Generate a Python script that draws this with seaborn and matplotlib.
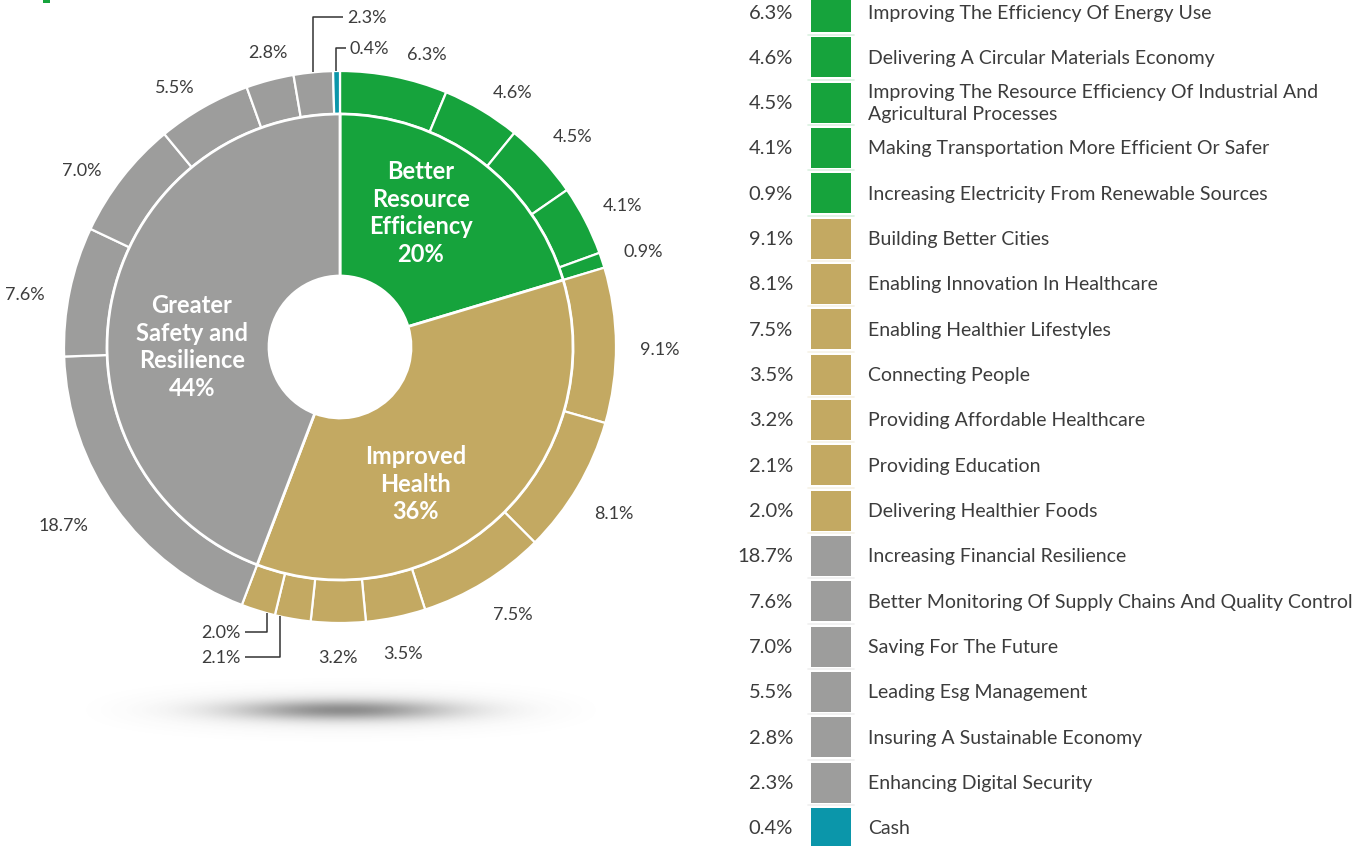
import numpy as np
import matplotlib
matplotlib.use("Agg")
import matplotlib.pyplot as plt
from matplotlib.patches import Rectangle
import seaborn as sns

sns.set_theme(style="white")
plt.rcParams["font.family"] = ["Lato", "DejaVu Sans"]

# ---------------- data ----------------
themes = ["Better\nResource\nEfficiency", "Improved\nHealth", "Greater\nSafety and\nResilience"]
theme_pct = ["20%", "36%", "44%"]

green_labels = ["Improving The Efficiency Of Energy Use",
                "Delivering A Circular Materials Economy",
                "Improving The Resource Efficiency Of Industrial And\nAgricultural Processes",
                "Making Transportation More Efficient Or Safer",
                "Increasing Electricity From Renewable Sources"]
green_vals = [6.3, 4.6, 4.5, 4.1, 0.9]

gold_labels = ["Building Better Cities",
               "Enabling Innovation In Healthcare",
               "Enabling Healthier Lifestyles",
               "Connecting People",
               "Providing Affordable Healthcare",
               "Providing Education",
               "Delivering Healthier Foods"]
gold_vals = [9.1, 8.1, 7.5, 3.5, 3.2, 2.1, 2.0]

gray_labels = ["Increasing Financial Resilience",
               "Better Monitoring Of Supply Chains And Quality Control",
               "Saving For The Future",
               "Leading Esg Management",
               "Insuring A Sustainable Economy",
               "Enhancing Digital Security"]
gray_vals = [18.7, 7.6, 7.0, 5.5, 2.8, 2.3]

cash_labels = ["Cash"]
cash_vals = [0.4]

GREEN, GOLD, GRAY, TEAL = "#16a33c", "#c3a962", "#9d9d9c", "#0b96aa"
TXT = "#3c3c3c"

# ---------------- derived ----------------
outer_vals = green_vals + gold_vals + gray_vals + cash_vals
outer_labels = green_labels + gold_labels + gray_labels + cash_labels
outer_colors = ([GREEN] * len(green_vals) + [GOLD] * len(gold_vals)
                + [GRAY] * len(gray_vals) + [TEAL] * len(cash_vals))
inner_vals = [sum(green_vals), sum(gold_vals), sum(gray_vals) + sum(cash_vals)]
inner_colors = [GREEN, GOLD, GRAY]

W, H = 1368, 846
fig = plt.figure(figsize=(W / 100, H / 100), dpi=100)
ax = fig.add_axes([0, 0, 1, 1])


def P(x, y):
    return x, H - y


CX, CY = P(340, 347)
R_OUT, R_IN, R_HOLE = 276, 233, 71

ax.pie(outer_vals, radius=R_OUT, center=(CX, CY), startangle=90, counterclock=False,
       colors=outer_colors,
       wedgeprops=dict(width=R_OUT - R_IN, edgecolor="white", linewidth=1.6))
ax.pie(inner_vals, radius=R_IN, center=(CX, CY), startangle=90, counterclock=False,
       colors=inner_colors,
       wedgeprops=dict(width=R_IN - R_HOLE, edgecolor="white", linewidth=2.0))

# inner labels
inner_pos = [P(421, 213), P(416, 484), P(192, 347)]
for name, pct, (x, y) in zip(themes, theme_pct, inner_pos):
    ax.text(x, y, name + "\n" + pct, ha="center", va="center", color="white",
            fontsize=17, fontweight="bold", linespacing=1.25)

# outer labels
total = sum(outer_vals)
cum = np.cumsum([0] + outer_vals)
mids = 90 - (cum[:-1] + np.array(outer_vals) / 2) / total * 360
n = len(outer_vals)
ng = len(green_vals)
leader = {  # index: (start x px, elbow y px, text x px, ha)
    n - 2: (313, 17, 347, "left"),
    n - 1: (336, 48, 350, "left"),
    ng + 5: (280, 657, 241, "right"),
    ng + 6: (267, 632, 241, "right"),
}
nudge = {0: (26, 6), 1: (12, 10), 7: (9, -4), 12: (-14, -14), 13: (-2, 8),
         14: (-8, 14), 15: (-10, 8), 16: (7, 0)}
for i, (v, a) in enumerate(zip(outer_vals, mids)):
    t = np.deg2rad(a)
    txt = f"{v:.1f}%"
    if i in leader:
        sxp, ey, tx, ha = leader[i]
        dx = sxp - CX
        sign = 1 if np.sin(t) > 0 else -1
        sy = CY + sign * np.sqrt(R_OUT ** 2 - dx ** 2)
        _, ey_d = P(0, ey)
        hx = tx - 4 if ha == "left" else tx + 4
        ax.plot([sxp, sxp, hx], [sy, ey_d, ey_d], color="#333333", lw=1.1,
                solid_capstyle="butt")
        ax.text(tx, ey_d - 1, txt, ha=ha, va="center", fontsize=13, color=TXT)
    else:
        r = 306 + 14 * abs(np.cos(t)) + (5 if len(txt) > 4 else 0)
        ddx, ddy = nudge.get(i, (0, 0))
        ax.text(CX + r * np.cos(t) + ddx, CY + r * np.sin(t) - ddy - 5, txt,
                ha="center", va="center", fontsize=13, color=TXT)

# legend
for i, (lab, v, c) in enumerate(zip(outer_labels, outer_vals, outer_colors)):
    yc = 12 + i * 45.33
    x0, ytop = P(811, yc - 20)
    ax.add_patch(Rectangle((x0, ytop - 40), 40, 40, facecolor=c, edgecolor="none"))
    ax.plot([808, 854], [ytop - 42.5, ytop - 42.5], color=c, alpha=0.15, lw=1.2)
    ax.text(793, H - yc - 1, f"{v:.1f}%", ha="right", va="center", fontsize=14.5,
            color=TXT)
    ax.text(868, H - yc - 1, lab, ha="left", va="center", fontsize=14,
            color=TXT, linespacing=1.35)

# shadow under the pie
gx = np.linspace(60, 620, 600)
gy = np.linspace(660, 760, 100)
X, Y = np.meshgrid(gx, gy)
core = 0.5 * np.exp(-0.5 * ((X - 343) / 80) ** 2 - 0.5 * ((Y - 710) / 7) ** 2)
halo = 0.14 * np.exp(-0.5 * ((X - 343) / 130) ** 2 - 0.5 * ((Y - 710) / 13) ** 2)
win = (np.clip(1 - ((X - 340) / 280) ** 2, 0, 1) * np.clip(1 - ((Y - 710) / 50) ** 2, 0, 1))
A = (core + halo) * win
img = np.zeros(A.shape + (4,))
img[..., :3] = 0.3
img[..., 3] = A
ax.imshow(img, extent=(60, 620, H - 760, H - 660), origin="upper",
          interpolation="bilinear", zorder=0, aspect="auto")

# small green mark at the top-left
ax.add_patch(Rectangle(P(43, 3), 7, 3, facecolor=GREEN, edgecolor="none"))

ax.set_xlim(0, W)
ax.set_ylim(0, H)
ax.set_aspect("auto")
ax.axis("off")
fig.savefig("out.png", dpi=100)
